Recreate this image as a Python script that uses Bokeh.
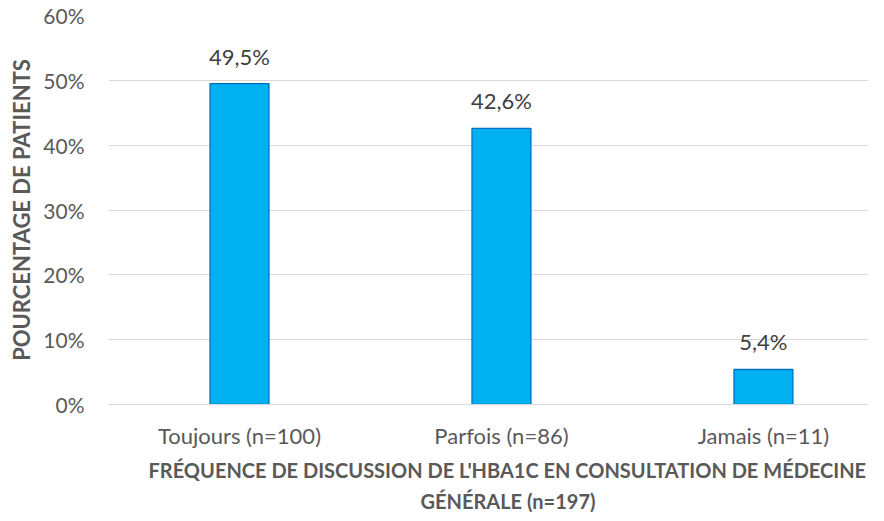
from bokeh.plotting import figure
from bokeh.models import ColumnDataSource, Range1d, FixedTicker, PrintfTickFormatter, LabelSet, Title
from bokeh.core.properties import value
from bokeh.embed import file_html
from bokeh.resources import INLINE

categories = ["Toujours (n=100)", "Parfois (n=86)", "Jamais (n=11)"]
values = [49.5, 42.6, 5.4]
value_labels = ["49,5%", "42,6%", "5,4%"]
y_ticks = [0, 10, 20, 30, 40, 50, 60]
x_title_1 = "FRÉQUENCE DE DISCUSSION DE L'HBA1C EN CONSULTATION DE MÉDECINE"
x_title_2 = "GÉNÉRALE (n=197)"
y_title = "POURCENTAGE DE PATIENTS"

FONT = "Lato"
GREY = "#595959"

xs = list(range(len(categories)))
source = ColumnDataSource(dict(x=xs, top=values, lbl=value_labels))

p = figure(width=868, height=513, output_backend="svg", toolbar_location=None,
           x_range=Range1d(-0.5, 2.401), y_range=Range1d(0, 60),
           min_border_left=108, min_border_right=0, min_border_top=15, min_border_bottom=107)
p.outline_line_color = None
p.background_fill_color = "white"

p.vbar(x="x", top="top", width=0.225, bottom=0, source=source,
       fill_color="#00B0F0", line_color="#0070C0", line_width=1.3)

labels = LabelSet(x="x", y="top", text="lbl", source=source, y_offset=14,
                  text_align="center", text_baseline="bottom",
                  text_font=value(FONT), text_font_size="22px", text_color="#404040")
p.add_layout(labels)

p.xgrid.grid_line_color = None
p.ygrid.grid_line_color = "#D9D9D9"
p.ygrid.grid_line_width = 1

p.yaxis.ticker = FixedTicker(ticks=y_ticks)
p.yaxis.formatter = PrintfTickFormatter(format="%d%%")
p.yaxis.axis_line_color = None
p.yaxis.major_tick_line_color = None
p.yaxis.minor_tick_line_color = None
p.yaxis.major_label_text_font = FONT
p.yaxis.major_label_text_font_size = "21px"
p.yaxis.major_label_text_color = GREY
p.yaxis.major_label_standoff = 18
p.yaxis.axis_label = y_title
p.yaxis.axis_label_text_font = FONT
p.yaxis.axis_label_text_font_style = "bold"
p.yaxis.axis_label_text_font_size = "22px"
p.yaxis.axis_label_text_color = GREY
p.yaxis.axis_label_standoff = 5

p.xaxis.ticker = FixedTicker(ticks=xs)
p.xaxis.major_label_overrides = {i: c for i, c in enumerate(categories)}
p.xaxis.axis_line_color = "#D9D9D9"
p.xaxis.major_tick_line_color = None
p.xaxis.minor_tick_line_color = None
p.xaxis.major_label_text_font = FONT
p.xaxis.major_label_text_font_size = "22px"
p.xaxis.major_label_text_color = GREY
p.xaxis.major_label_standoff = 11

for txt, off, so in [(x_title_1, 40, 8), (x_title_2, 312, 2)]:
    p.add_layout(Title(text=txt, align="left", offset=off, text_font=FONT,
                       text_font_style="bold", text_font_size="20px",
                       text_color=GREY, standoff=so), "below")

open("out.html", "w").write(file_html(p, INLINE))
